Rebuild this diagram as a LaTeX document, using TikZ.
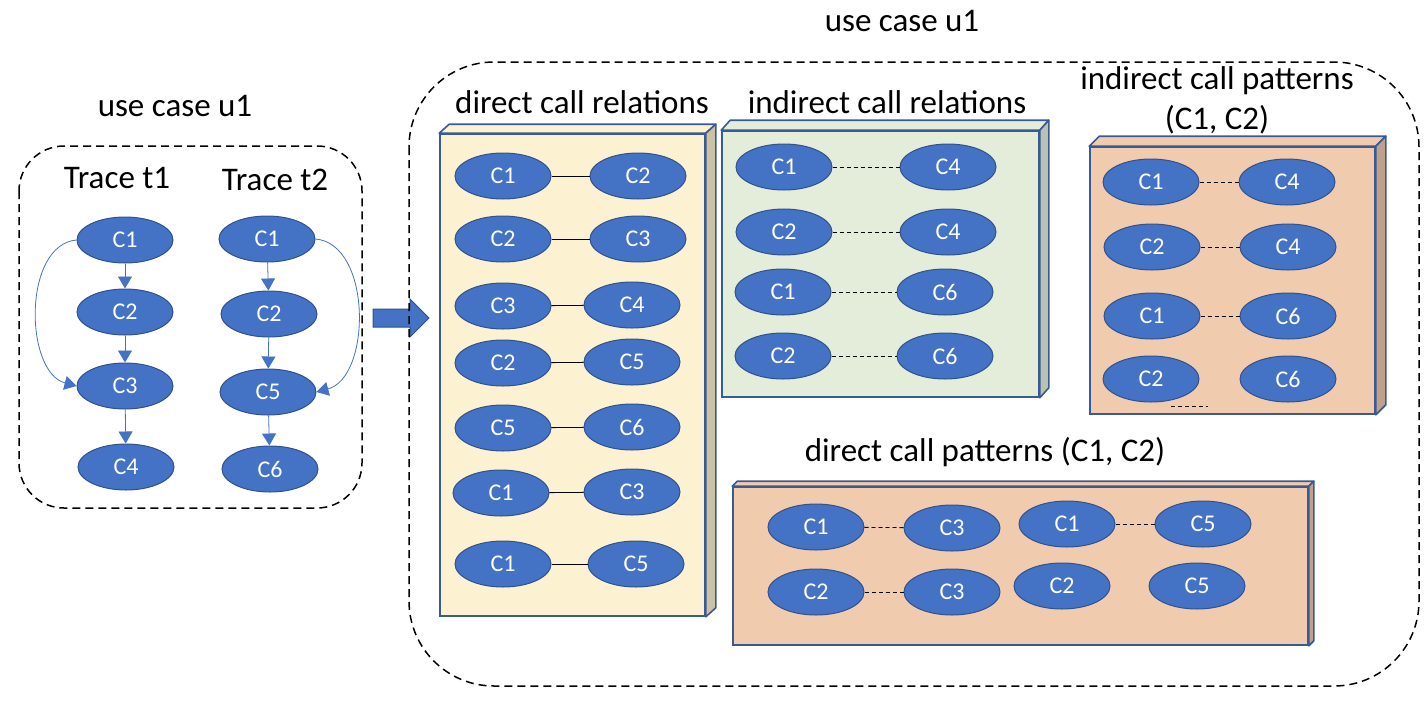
\documentclass[tikz,border=0pt]{standalone}
\usepackage{fontspec}
\setmainfont{Carlito}
\usepackage{xcolor}
\usepackage{tikz}
\usetikzlibrary{arrows.meta, positioning, shapes.geometric}

\definecolor{compblue}{HTML}{4472C4}
\definecolor{compedge}{HTML}{2F528F}
\definecolor{panelline}{HTML}{3A5A94}
\definecolor{yellowface}{HTML}{FCF1D1}
\definecolor{yellowside}{HTML}{CBC2A4}
\definecolor{greenface}{HTML}{E3EDDA}
\definecolor{greenside}{HTML}{BAC3B2}
\definecolor{orangeface}{HTML}{F1CBAD}
\definecolor{orangeside}{HTML}{BFA08A}

\begin{document}
\begin{tikzpicture}[
    x=1pt, y=-1pt,
    comp/.style={ellipse, draw=compedge, fill=compblue, line width=1pt, minimum width=96, minimum height=46, inner sep=0pt, text=white, font=\fontsize{24}{24}\selectfont},
    title/.style={align=center, font=\fontsize{33}{40}\selectfont},
    usecase/.style={draw=black, line width=1.5pt, dash pattern=on 8pt off 5pt, rounded corners=#1},
    panel/.style={rectangle, draw=panelline, line width=1.6pt, inner sep=0pt},
    face/.style={draw=panelline, line width=1.6pt, line join=round},
    flow/.style={-{Triangle[length=12pt, width=14pt]}, draw=compblue, line width=0.8pt},
    direct/.style={draw=black, line width=0.8pt},
    indirect/.style={draw=black, line width=0.8pt, dash pattern=on 4pt off 3pt},
    blockarrow/.style={fill=compblue, draw=compedge, line width=1pt}
]
    \useasboundingbox (0,0) rectangle (1428,702);

    % left use case with the two traces
    \draw[usecase=45pt] (19,146) rectangle (362,508);
    \node[title] (lefttitle) at (175,106) {use case u1};
    \node[title] (trace1) at (117,178) {Trace t1};
    \node[title] (trace2) at (275,180) {Trace t2};

    \node[comp] (t1c1) at (125,240) {C1};
    \node[comp] (t1c2) at (125,312) {C2};
    \node[comp] (t1c3) at (125,386) {C3};
    \node[comp] (t1c4) at (126,467) {C4};
    \node[comp] (t2c1) at (267,239) {C1};
    \node[comp] (t2c2) at (269,314) {C2};
    \node[comp] (t2c5) at (268,392) {C5};
    \node[comp] (t2c6) at (270,469) {C6};

    \draw[flow] (t1c1) -- (t1c2);
    \draw[flow] (t1c2) -- (t1c3);
    \draw[flow] (t1c3) -- (t1c4);
    \draw[flow] (t2c1) -- (t2c2);
    \draw[flow] (t2c2) -- (t2c5);
    \draw[flow] (t2c5) -- (t2c6);
    \draw[flow] (t1c1.west) to[out=185, in=165, looseness=0.95] (t1c3.west);
    \draw[flow] (t2c1.east) to[out=-5, in=15, looseness=0.95] (t2c5.east);

    % block arrow
    \draw[blockarrow] (373,309) -- (410,309) -- (410,299) -- (429,318) -- (410,337) -- (410,327) -- (373,327) -- cycle;

    % right use case
    \draw[usecase=85pt] (409,62) rectangle (1419,686);
    \node[title] (righttitle) at (902,21) {use case u1};

    % direct call relations
    \node[panel, fill=yellowface, minimum width=265, minimum height=482] (rel) at (572.5,375) {};
    \filldraw[face, fill=yellowface] (rel.north west) -- ++(10,-9) -- ([shift={(10,-9)}]rel.north east) -- (rel.north east) -- cycle;
    \filldraw[face, fill=yellowside] (rel.north east) -- ++(10,-9) -- ([shift={(10,-9)}]rel.south east) -- (rel.south east) -- cycle;
    \node[title] (reltitle) at (582,102) {direct call relations};

    \node[comp] (r1a) at (503,176) {C1};
    \node[comp] (r1b) at (638,176) {C2};
    \node[comp] (r2a) at (503,239) {C2};
    \node[comp] (r2b) at (638,239) {C3};
    \node[comp] (r3a) at (503,306) {C3};
    \node[comp] (r3b) at (632,305) {C4};
    \node[comp] (r4a) at (503,363) {C2};
    \node[comp] (r4b) at (632,362) {C5};
    \node[comp] (r5a) at (503,428) {C5};
    \node[comp] (r5b) at (632,427) {C6};
    \node[comp] (r6a) at (501,493) {C1};
    \node[comp] (r6b) at (632,492) {C3};
    \node[comp] (r7a) at (503,564) {C1};
    \node[comp] (r7b) at (636,564) {C5};

    \draw[direct] (r1a) -- (r1b);
    \draw[direct] (r2a) -- (r2b);
    \draw[direct] (r3a) -- (r3b);
    \draw[direct] (r4a) -- (r4b);
    \draw[direct] (r5a) -- (r5b);
    \draw[direct] (r6a) -- (r6b);
    \draw[direct] (r7a) -- (r7b);

    % indirect call relations
    \node[panel, fill=greenface, minimum width=317, minimum height=266] (indrel) at (880.5,264) {};
    \filldraw[face, fill=greenface] (indrel.north west) -- ++(9,-10) -- ([shift={(9,-10)}]indrel.north east) -- (indrel.north east) -- cycle;
    \filldraw[face, fill=greenside] (indrel.north east) -- ++(9,-10) -- ([shift={(9,-10)}]indrel.south east) -- (indrel.south east) -- cycle;
    \node[title] (indreltitle) at (887,102) {indirect call relations};

    \node[comp] (i1a) at (784,167) {C1};
    \node[comp] (i1b) at (948,167) {C4};
    \node[comp] (i2a) at (784,232) {C2};
    \node[comp] (i2b) at (948,232) {C4};
    \node[comp] (i3a) at (783,292) {C1};
    \node[comp] (i3b) at (945,292) {C6};
    \node[comp] (i4a) at (783,356) {C2};
    \node[comp] (i4b) at (945,356) {C6};

    \draw[indirect] (i1a) -- (i1b);
    \draw[indirect] (i2a) -- (i2b);
    \draw[indirect] (i3a) -- (i3b);
    \draw[indirect] (i4a) -- (i4b);

    % indirect call patterns
    \node[panel, fill=orangeface, minimum width=285, minimum height=267] (indpat) at (1232.5,280.5) {};
    \filldraw[face, fill=orangeface] (indpat.north west) -- ++(10,-10) -- ([shift={(10,-10)}]indpat.north east) -- (indpat.north east) -- cycle;
    \filldraw[face, fill=orangeside] (indpat.north east) -- ++(10,-10) -- ([shift={(10,-10)}]indpat.south east) -- (indpat.south east) -- cycle;
    \node[title] (indpattitle) at (1217,100) {indirect call patterns\\(C1, C2)};

    \node[comp] (p1a) at (1151,182) {C1};
    \node[comp] (p1b) at (1287,182) {C4};
    \node[comp] (p2a) at (1152,247) {C2};
    \node[comp] (p2b) at (1288,247) {C4};
    \node[comp] (p3a) at (1152,316) {C1};
    \node[comp] (p3b) at (1288,316) {C6};
    \node[comp] (p4a) at (1151,379) {C2};
    \node[comp] (p4b) at (1288,379) {C6};

    \draw[indirect] (p1a) -- (p1b);
    \draw[indirect] (p2a) -- (p2b);
    \draw[indirect] (p3a) -- (p3b);
    \coordinate (strayA) at (1171,406);
    \coordinate (strayB) at (1208,406);
    \draw[indirect] (strayA) -- (strayB);

    % direct call patterns
    \node[panel, fill=orangeface, minimum width=575, minimum height=158] (dirpat) at (1020.5,566) {};
    \filldraw[face, fill=orangeface] (dirpat.north west) -- ++(5,-5) -- ([shift={(5,-5)}]dirpat.north east) -- (dirpat.north east) -- cycle;
    \filldraw[face, fill=orangeside] (dirpat.north east) -- ++(5,-5) -- ([shift={(5,-5)}]dirpat.south east) -- (dirpat.south east) -- cycle;
    \node[title] (dirpattitle) at (985,452) {direct call patterns (C1, C2)};

    \node[comp] (q1a) at (816,527) {C1};
    \node[comp] (q1b) at (952,528) {C3};
    \node[comp] (q1c) at (1067,524) {C1};
    \node[comp] (q1d) at (1203,524) {C5};
    \node[comp] (q2a) at (816,592) {C2};
    \node[comp] (q2b) at (952,592) {C3};
    \node[comp] (q2c) at (1062,586) {C2};
    \node[comp] (q2d) at (1197,586) {C5};

    \draw[indirect] (q1a) -- (q1b);
    \draw[indirect] (q1c) -- (q1d);
    \draw[indirect] (q2a) -- (q2b);
\end{tikzpicture}
\end{document}
